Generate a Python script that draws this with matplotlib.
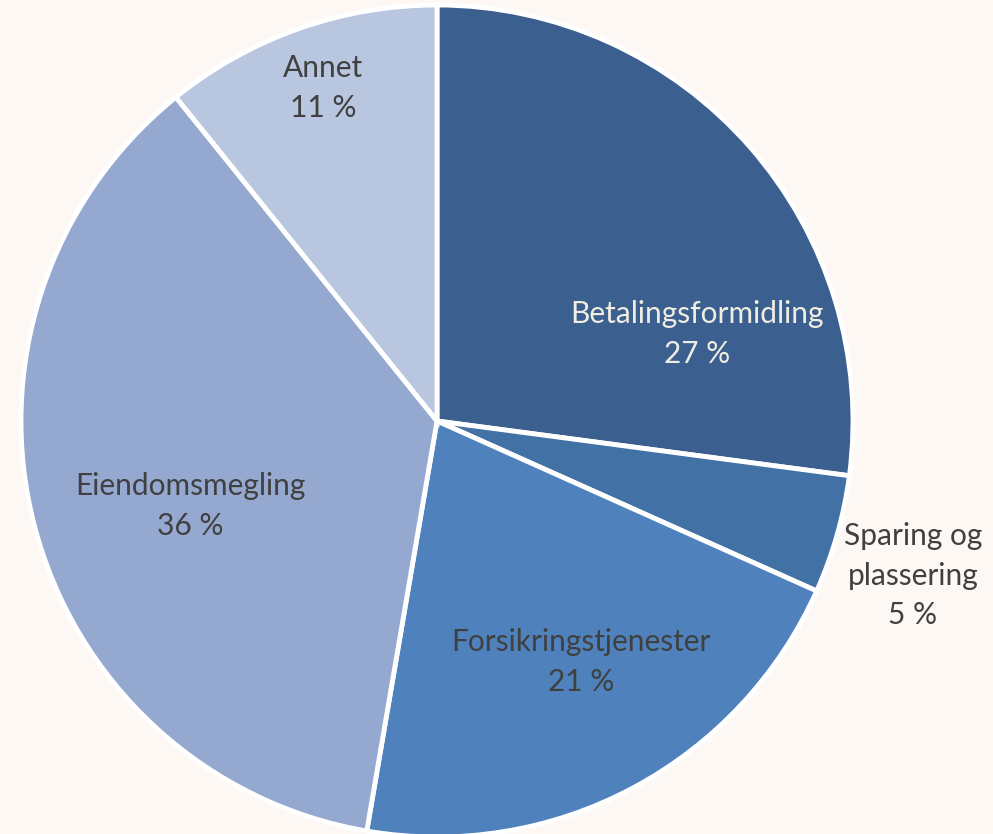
import matplotlib
matplotlib.use("Agg")
import matplotlib.pyplot as plt

categories = ["Betalingsformidling", "Sparing og\nplassering", "Forsikringstjenester", "Eiendomsmegling", "Annet"]
values = [27.1, 4.6, 21.0, 36.5, 10.8]
colors = ["#3B5F8E", "#4271A6", "#4F81BD", "#95A9D0", "#B9C6E0"]
text_colors = ["#F0EDE3", "#404040", "#404040", "#404040", "#404040"]

W, H = 993, 834
fig = plt.figure(figsize=(W / 100, H / 100), dpi=100)
fig.patch.set_facecolor("#FDF8F4")
ax = fig.add_axes([0, 0, 1, 1])
ax.set_xlim(0, W)
ax.set_ylim(0, H)
ax.set_aspect("equal")
ax.axis("off")

cx, cy, r = 437, H - 421, 416
wedges, _ = ax.pie(values, colors=colors, startangle=90, counterclock=False,
                   center=(cx, cy), radius=r,
                   wedgeprops=dict(edgecolor="white", linewidth=3.5))
ax.set_xlim(0, W)
ax.set_ylim(0, H)

# label anchor positions (pixels from top-left)
label_pos = [(697, 334), (913, 576), (581, 662), (190, 506), (323, 88)]
for cat, v, tc, (px, py) in zip(categories, values, text_colors, label_pos):
    ax.text(px, H - py, f"{cat}\n{round(v)} %", ha="center", va="center",
            color=tc, fontsize=21.5, family="Lato", linespacing=1.5)

fig.savefig("out.png", dpi=100, facecolor=fig.get_facecolor())
